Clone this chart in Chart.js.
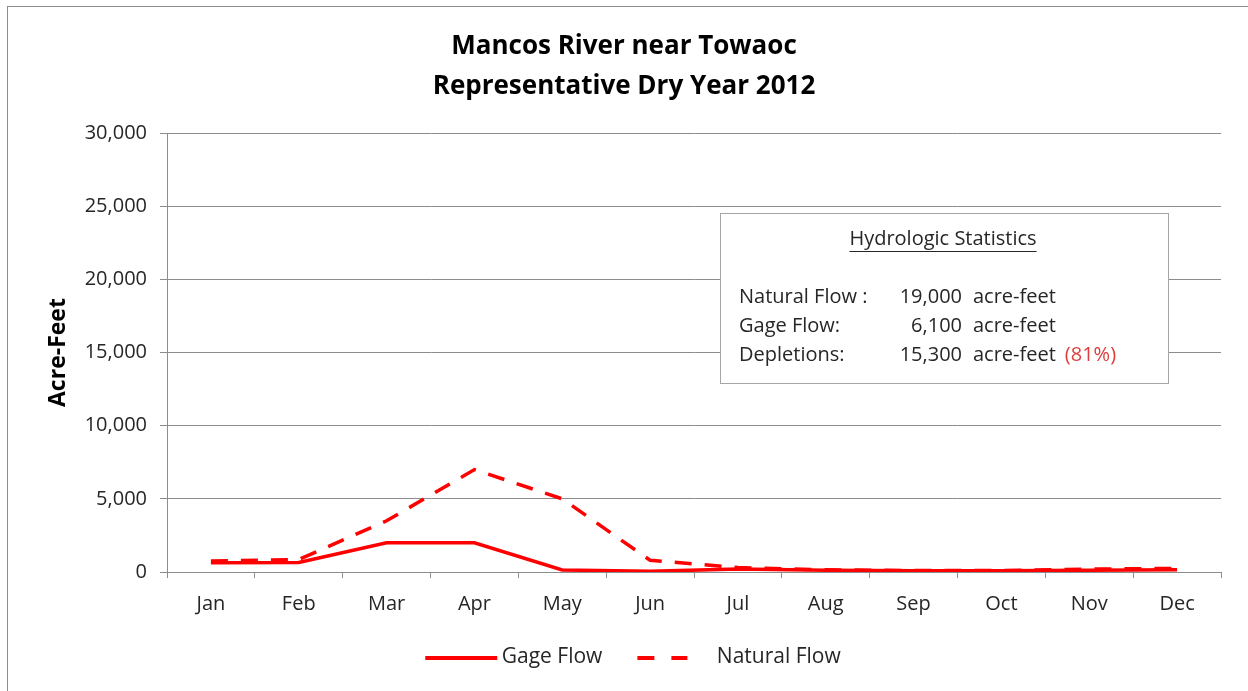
<!DOCTYPE html>
<html>
<head>
<meta charset="utf-8">
<script src="https://cdn.jsdelivr.net/npm/chart.js@4"></script>
<style>
  html, body { margin: 0; padding: 0; background: #fff; }
  #wrap { width: 1248px; height: 691px; }
</style>
</head>
<body>
<div id="wrap"><canvas id="myChart" width="1248" height="691"></canvas></div>
<script>
const months = ['Jan', 'Feb', 'Mar', 'Apr', 'May', 'Jun', 'Jul', 'Aug', 'Sep', 'Oct', 'Nov', 'Dec'];
const gageFlow = [640, 650, 2000, 2000, 140, 50, 200, 120, 80, 80, 120, 150];
const naturalFlow = [760, 850, 3500, 7000, 5000, 800, 300, 150, 100, 100, 200, 250];
const chartTitle = ['Mancos River near Towaoc', 'Representative Dry Year 2012'];
const statsRows = [
    ['Natural Flow :', '19,000', 'acre-feet', ''],
    ['Gage Flow:', '6,100', 'acre-feet', ''],
    ['Depletions:', '15,300', 'acre-feet', '(81%)']
];

const FONT = "'Open Sans', 'Liberation Sans', sans-serif";
const RED = '#ff0000';

// legend symbols: small canvases, drawn centred on the legend box
function lineSample(width, segments) {
    const c = document.createElement('canvas');
    c.width = width;
    c.height = 4;
    const g = c.getContext('2d');
    g.fillStyle = RED;
    segments.forEach(s => g.fillRect(s[0], 0, s[1] - s[0], 4));
    return c;
}

// grey frame round the whole picture + the statistics text box
const extras = {
    id: 'extras',
    beforeDraw(chart) {
        const ctx = chart.ctx;
        ctx.save();
        ctx.fillStyle = '#fff';
        ctx.fillRect(0, 0, chart.width, chart.height);
        ctx.strokeStyle = '#8c8c8c';
        ctx.lineWidth = 1;
        ctx.strokeRect(7.5, 6.5, 1300, 720);
        ctx.restore();
    },
    afterDraw(chart) {
        const ctx = chart.ctx;
        ctx.save();
        ctx.fillStyle = '#fff';
        ctx.fillRect(720, 213, 448, 170);
        ctx.strokeStyle = '#a6a6a6';
        ctx.lineWidth = 1;
        ctx.strokeRect(720.5, 213.5, 448, 170);

        ctx.fillStyle = '#262626';
        ctx.font = '20px ' + FONT;
        ctx.textBaseline = 'middle';
        ctx.textAlign = 'center';
        const head = 'Hydrologic Statistics';
        ctx.fillText(head, 943, 239);
        const w = ctx.measureText(head).width;
        ctx.fillRect(943 - w / 2, 251, w, 1);

        statsRows.forEach((r, i) => {
            const y = 297 + i * 29;
            ctx.fillStyle = '#262626';
            ctx.textAlign = 'left';
            ctx.fillText(r[0], 739, y);
            ctx.textAlign = 'right';
            ctx.fillText(r[1], 962, y);
            ctx.textAlign = 'left';
            ctx.fillText(r[2], 973, y);
            if (r[3]) {
                const x3 = 973 + ctx.measureText(r[2]).width + 9;
                ctx.fillStyle = '#e03c3c';
                ctx.fillText(r[3], x3, y);
            }
        });
        ctx.restore();
    }
};

const ctx = document.getElementById('myChart').getContext('2d');
const myChart = new Chart(ctx, {
    type: 'line',
    data: {
        labels: months,
        datasets: [{
            label: 'Gage Flow',
            data: gageFlow,
            borderColor: RED,
            backgroundColor: RED,
            borderWidth: 3.5,
            pointRadius: 0,
            pointStyle: lineSample(98, [[25, 97]]),
            tension: 0
        }, {
            label: 'Natural Flow',
            data: naturalFlow,
            borderColor: RED,
            backgroundColor: RED,
            borderWidth: 3.5,
            borderDash: [17, 13],
            pointRadius: 0,
            pointStyle: lineSample(60, [[3, 20], [37, 53]]),
            tension: 0
        }]
    },
    options: {
        responsive: false,
        animation: false,
        layout: {
            padding: { left: 27, right: 27, top: 0, bottom: 13 }
        },
        plugins: {
            title: {
                display: true,
                text: chartTitle,
                color: '#000',
                font: { family: FONT, size: 26, weight: 'bold', lineHeight: 1.54 },
                padding: { top: 27, bottom: 26 }
            },
            legend: {
                position: 'bottom',
                labels: {
                    color: '#262626',
                    font: { family: FONT, size: 21 },
                    usePointStyle: true,
                    pointStyleWidth: 84,
                    boxHeight: 4,
                    padding: 20
                }
            },
            tooltip: { enabled: false }
        },
        scales: {
            x: {
                offset: true,
                afterFit: s => { s.height = 55; },
                grid: {
                    offset: true,
                    drawOnChartArea: false,
                    color: '#8c8c8c',
                    tickLength: 6
                },
                border: { color: '#8c8c8c' },
                ticks: {
                    color: '#262626',
                    font: { family: FONT, size: 20 },
                    padding: 14,
                    maxRotation: 0
                }
            },
            y: {
                min: 0,
                max: 30000,
                afterFit: s => { s.width = 140; },
                title: {
                    display: true,
                    text: 'Acre-Feet',
                    color: '#000',
                    font: { family: FONT, size: 23, weight: 'bold' },
                    padding: { top: 18, bottom: 0 }
                },
                grid: {
                    color: '#8c8c8c',
                    tickLength: 7
                },
                border: { color: '#8c8c8c' },
                ticks: {
                    stepSize: 5000,
                    color: '#262626',
                    font: { family: FONT, size: 20 },
                    padding: 13,
                    callback: v => v.toLocaleString('en-US')
                }
            }
        }
    },
    plugins: [extras]
});
</script>
</body>
</html>
